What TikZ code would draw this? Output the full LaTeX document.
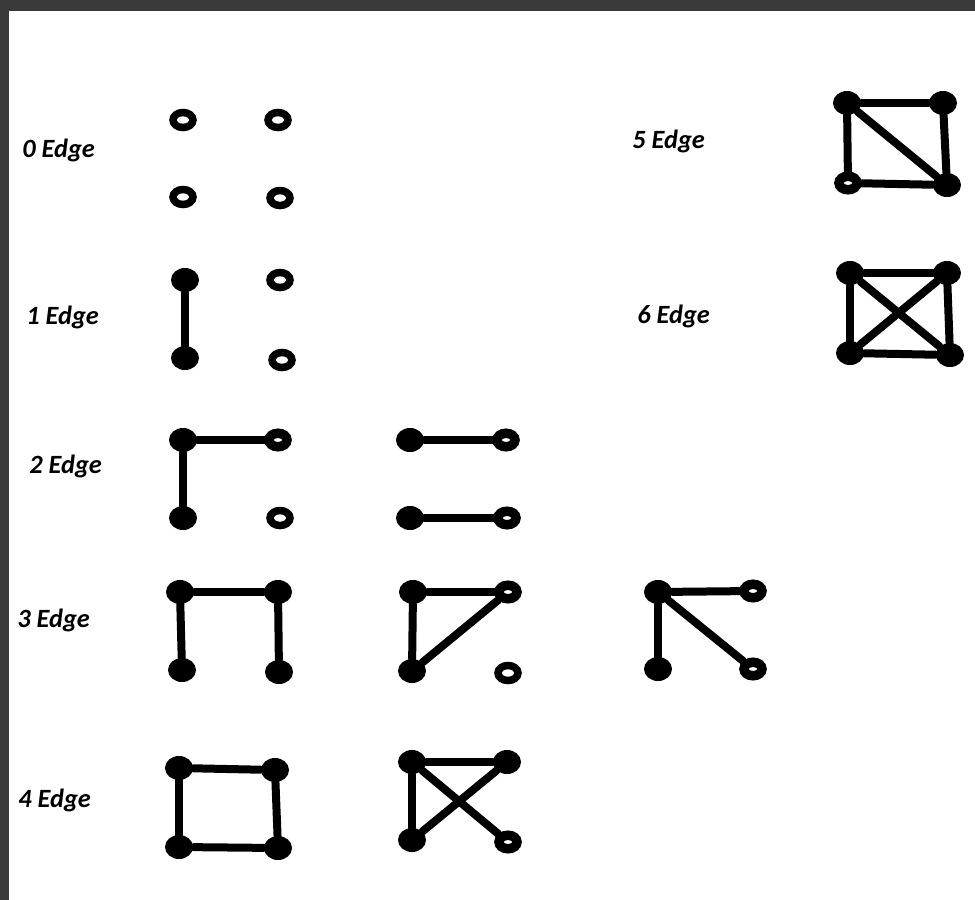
\documentclass[tikz,border=0pt]{standalone}
\usepackage{fontspec}
\setmainfont{Carlito}
\usetikzlibrary{shapes.geometric}
\definecolor{framegray}{RGB}{58,58,58}

\begin{document}
\begin{tikzpicture}[
    vfill/.style={ellipse,fill=black,minimum width=5.6mm,minimum height=4.8mm,inner sep=0pt},
    vopen/.style={ellipse,draw,fill=white,line width=1.5mm,minimum width=4.0mm,minimum height=3.0mm,inner sep=0pt},
    vhole/.style={ellipse,draw,fill=white,line width=1.9mm,minimum width=3.6mm,minimum height=2.7mm,inner sep=0pt},
    link/.style={line width=1.6mm,line cap=round},
    lbl/.style={anchor=base west,inner sep=0pt,font=\fontsize{15}{18}\selectfont\bfseries\itshape}
]
\useasboundingbox (0,0) rectangle (19.5,-18);
\fill[framegray] (0,0) rectangle (19.5,-18);
\fill[white] (0.18,-0.22) rectangle (19.5,-18);

% labels
\node[lbl] (l0) at (0.44,-3.14)  {0 Edge};
\node[lbl] (l1) at (0.52,-6.48)  {1 Edge};
\node[lbl] (l2) at (0.58,-9.46)  {2 Edge};
\node[lbl] (l3) at (0.34,-12.54) {3 Edge};
\node[lbl] (l4) at (0.36,-16.14) {4 Edge};
\node[lbl] (l5) at (12.64,-2.96) {5 Edge};
\node[lbl] (l6) at (12.74,-6.46) {6 Edge};

% 0 edges
\node[vopen] (g0a) at (3.66,-2.40) {};
\node[vopen] (g0b) at (5.56,-2.40) {};
\node[vopen] (g0c) at (3.66,-3.94) {};
\node[vopen] (g0d) at (5.60,-3.96) {};

% 1 edge
\node[vfill] (g1a) at (3.70,-5.60) {};
\node[vopen] (g1b) at (5.60,-5.60) {};
\node[vfill] (g1c) at (3.70,-7.16) {};
\node[vopen] (g1d) at (5.64,-7.20) {};
\draw[link] (g1a) -- (g1c);

% 2 edges
\node[vfill] (g2a) at (3.66,-8.80)  {};
\node[vhole] (g2b) at (5.56,-8.80)  {};
\node[vfill] (g2c) at (3.66,-10.36) {};
\node[vopen] (g2d) at (5.60,-10.36) {};
\draw[link] (g2a) -- (g2b);
\draw[link] (g2a) -- (g2c);

\node[vfill] (h2a) at (8.20,-8.80)  {};
\node[vhole] (h2b) at (10.12,-8.80) {};
\node[vfill] (h2c) at (8.20,-10.36) {};
\node[vhole] (h2d) at (10.14,-10.36) {};
\draw[link] (h2a) -- (h2b);
\draw[link] (h2c) -- (h2d);

% 3 edges
\node[vfill] (g3a) at (3.60,-11.84) {};
\node[vfill] (g3b) at (5.56,-11.84) {};
\node[vfill] (g3c) at (3.64,-13.40) {};
\node[vfill] (g3d) at (5.58,-13.44) {};
\draw[link] (g3a) -- (g3b);
\draw[link] (g3a) -- (g3c);
\draw[link] (g3b) -- (g3d);

\node[vfill] (h3a) at (8.26,-11.84)  {};
\node[vhole] (h3b) at (10.16,-11.84) {};
\node[vfill] (h3c) at (8.24,-13.42)  {};
\node[vopen] (h3d) at (10.16,-13.46) {};
\draw[link] (h3a) -- (h3b);
\draw[link] (h3a) -- (h3c);
\draw[link] (h3c) -- (h3b);

\node[vfill] (k3a) at (13.16,-11.84) {};
\node[vhole] (k3b) at (15.06,-11.82) {};
\node[vfill] (k3c) at (13.16,-13.38) {};
\node[vhole] (k3d) at (15.06,-13.38) {};
\draw[link] (k3a) -- (k3b);
\draw[link] (k3a) -- (k3c);
\draw[link] (k3a) -- (k3d);

% 4 edges
\node[vfill] (g4a) at (3.58,-15.36) {};
\node[vfill] (g4b) at (5.50,-15.40) {};
\node[vfill] (g4c) at (3.58,-16.94) {};
\node[vfill] (g4d) at (5.56,-16.96) {};
\draw[link] (g4a) -- (g4b);
\draw[link] (g4a) -- (g4c);
\draw[link] (g4b) -- (g4d);
\draw[link] (g4c) -- (g4d);

\node[vfill] (h4a) at (8.24,-15.24)  {};
\node[vfill] (h4b) at (10.14,-15.24) {};
\node[vfill] (h4c) at (8.24,-16.80)  {};
\node[vhole] (h4d) at (10.16,-16.84) {};
\draw[link] (h4a) -- (h4b);
\draw[link] (h4a) -- (h4c);
\draw[link] (h4a) -- (h4d);
\draw[link] (h4c) -- (h4b);

% 5 edges
\node[vfill] (g5a) at (16.94,-2.06) {};
\node[vfill] (g5b) at (18.86,-2.06) {};
\node[vhole] (g5c) at (16.96,-3.66) {};
\node[vfill] (g5d) at (18.94,-3.70) {};
\draw[link] (g5a) -- (g5b);
\draw[link] (g5a) -- (g5c);
\draw[link] (g5b) -- (g5d);
\draw[link] (g5c) -- (g5d);
\draw[link] (g5a) -- (g5d);

% 6 edges
\node[vfill] (g6a) at (17.00,-5.46) {};
\node[vfill] (g6b) at (18.94,-5.46) {};
\node[vfill] (g6c) at (17.00,-7.06) {};
\node[vfill] (g6d) at (19.00,-7.10) {};
\draw[link] (g6a) -- (g6b);
\draw[link] (g6a) -- (g6c);
\draw[link] (g6b) -- (g6d);
\draw[link] (g6c) -- (g6d);
\draw[link] (g6a) -- (g6d);
\draw[link] (g6b) -- (g6c);
\end{tikzpicture}
\end{document}
